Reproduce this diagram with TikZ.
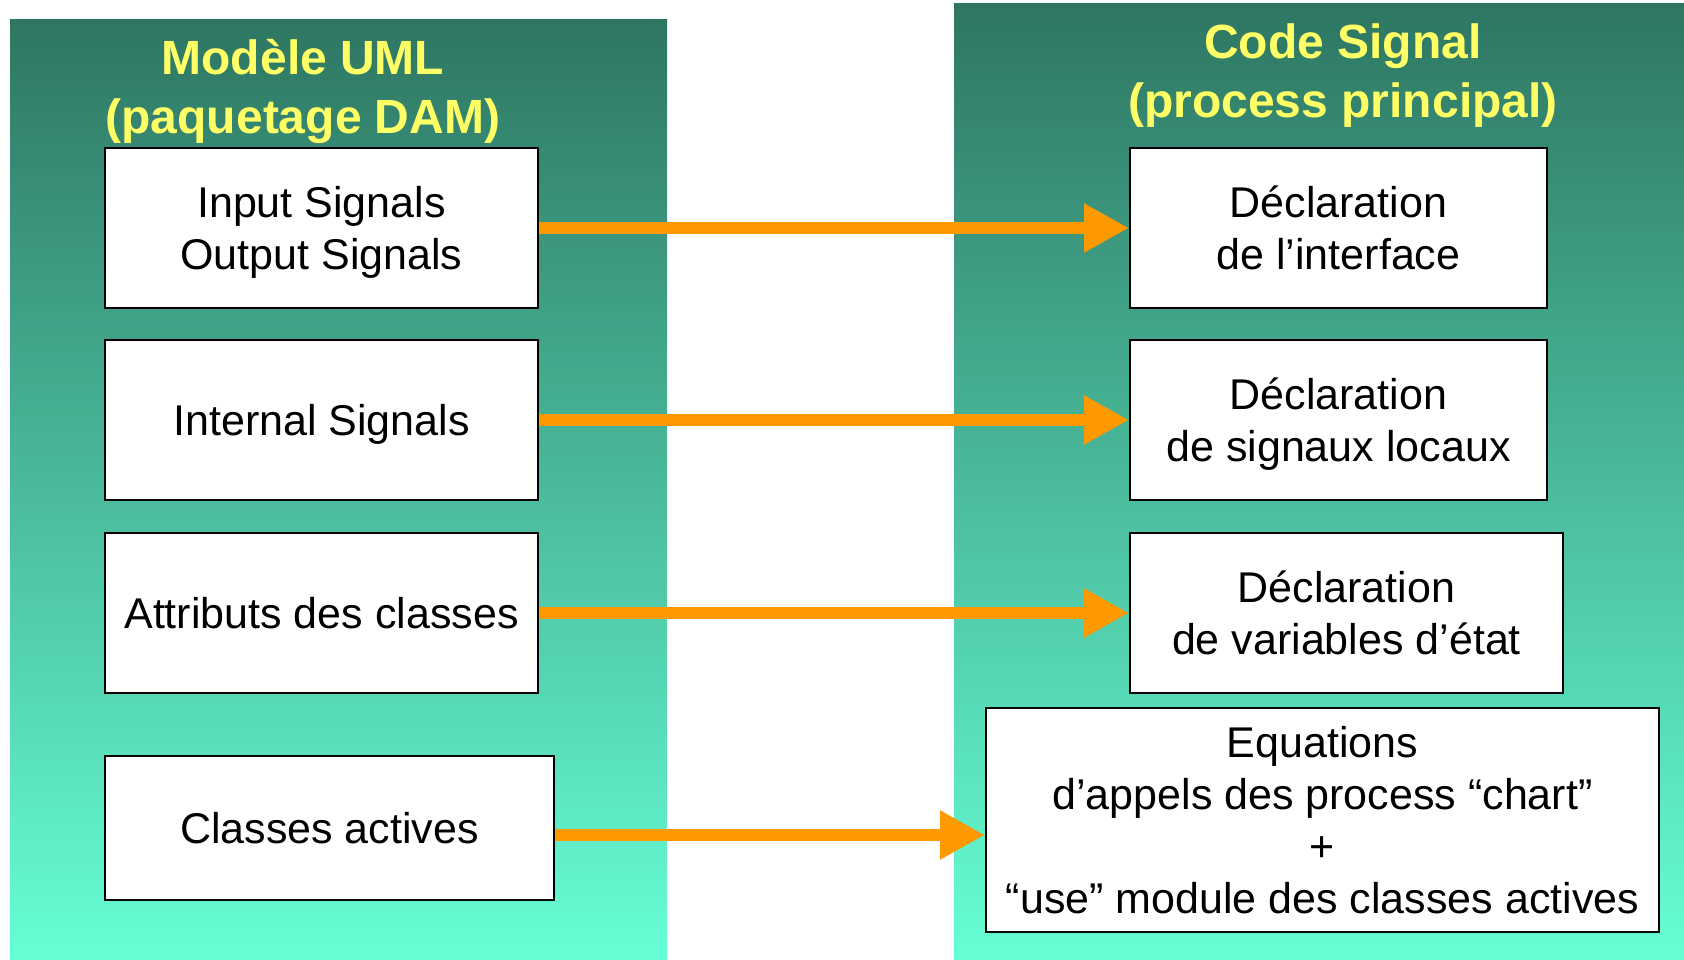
\documentclass[tikz,border=0pt]{standalone}
\usepackage{fontspec}
\setmainfont{Liberation Sans}
\usetikzlibrary{arrows.meta}
\definecolor{tealtop}{RGB}{46,118,98}
\definecolor{tealbot}{RGB}{102,255,214}
\definecolor{arroworange}{RGB}{255,153,0}
\definecolor{titleyellow}{RGB}{255,255,102}
\tikzset{
  panel/.style={top color=tealtop, bottom color=tealbot, draw=none},
  box/.style={draw=black, line width=2pt, fill=white, inner sep=0pt, align=center,
    text depth=0pt, font=\fontsize{43}{52}\selectfont},
  title/.style={text=titleyellow, align=center, inner sep=0pt,
    font=\bfseries\fontsize{48}{59}\selectfont},
  conn/.style={draw=arroworange, line width=12pt,
    -{Triangle[length=45pt,width=46pt]}}
}
\begin{document}
\begin{tikzpicture}[x=1pt,y=-1pt]
\useasboundingbox (0,0) rectangle (1684,960);
\fill[white] (0,0) rectangle (1684,960);
% panels
\path[panel] (10,20) rectangle (667,960);
\path[panel] (954,4) rectangle (1684,960);
% titles
\node[title] (tl) at (303,91) {Modèle UML\\(paquetage DAM)};
\node[title] (tr) at (1343,76) {Code Signal\\(process principal)};
% left boxes
\node[box, minimum width=433pt, minimum height=160pt] (l1) at (321.5,228) {Input Signals\\Output Signals};
\node[box, minimum width=433pt, minimum height=160pt] (l2) at (321.5,420) {Internal Signals};
\node[box, minimum width=433pt, minimum height=160pt] (l3) at (321.5,613) {Attributs des classes};
\node[box, minimum width=449pt, minimum height=144pt] (l4) at (329.5,828) {Classes actives};
% right boxes
\node[box, minimum width=417pt, minimum height=160pt] (r1) at (1338.5,228) {Déclaration\\de l’interface};
\node[box, minimum width=417pt, minimum height=160pt] (r2) at (1338.5,420) {Déclaration\\de signaux locaux};
\node[box, minimum width=433pt, minimum height=160pt] (r3) at (1346.5,613) {Déclaration\\de variables d’état};
\node[box, minimum width=673pt, minimum height=224pt] (r4) at (1322.5,820) {Equations\\d’appels des process “chart”\\+\\“use” module des classes actives};
% connectors
\draw[conn] (l1.east) -- (r1.west);
\draw[conn] (l2.east) -- (r2.west);
\draw[conn] (l3.east) -- (r3.west);
\draw[conn] ([yshift=-7pt]l4.east) -- ([yshift=-15pt]r4.west);
\end{tikzpicture}
\end{document}
